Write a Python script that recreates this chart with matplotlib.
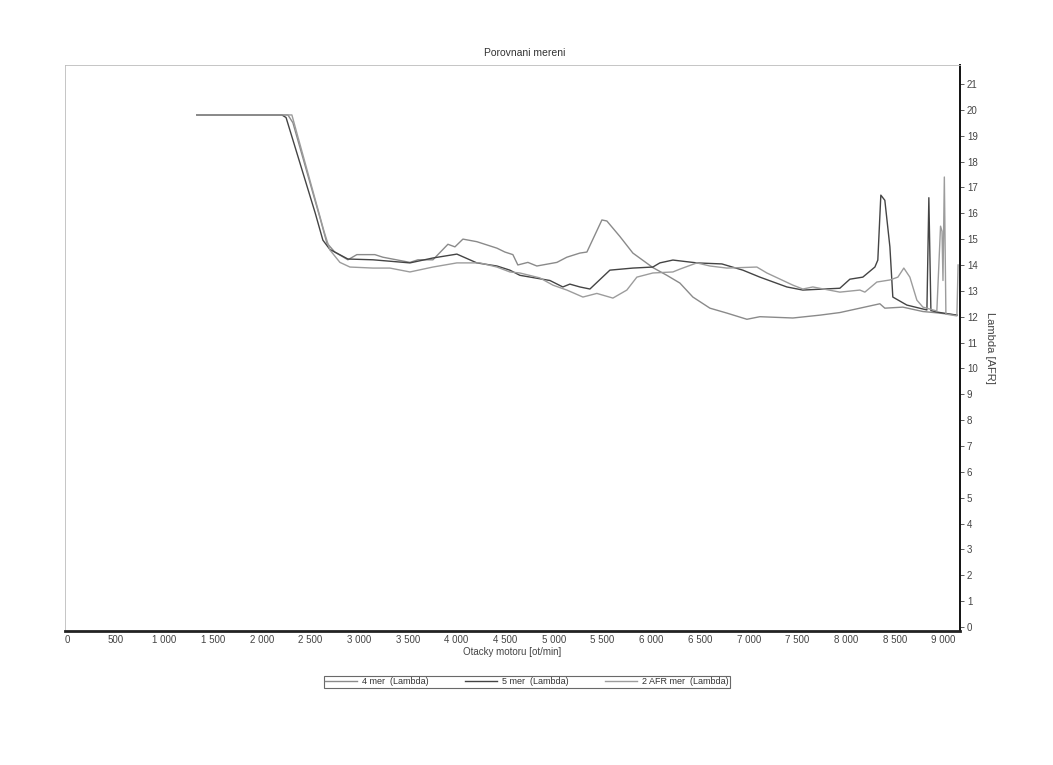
import matplotlib
matplotlib.use('Agg')
import matplotlib.pyplot as plt
from matplotlib.ticker import FuncFormatter

plt.rcParams['font.family'] = ['Liberation Sans', 'DejaVu Sans']

# 4 mer (Lambda) - light line with the hump at 5500
rpm_4 = [1335, 2269, 2320, 2600, 2669, 2750, 2885, 2977, 3162, 3244, 3522, 3604, 3758, 3912, 3984,
         4066, 4209, 4415, 4497, 4579, 4630, 4733, 4825, 5031, 5133, 5267, 5339, 5493,
         5544, 5678, 5811, 6016, 6160, 6294, 6427, 6602, 6776, 6982, 7115, 7454, 7731,
         7936, 8142, 8347, 8398, 8583, 8789, 8932, 9138]
afr_4 = [19.8, 19.8, 19.5, 15.8, 14.85, 14.5, 14.2, 14.4, 14.4, 14.3, 14.1, 14.2, 14.2, 14.8, 14.7,
         15.0, 14.9, 14.65, 14.5, 14.4, 14.0, 14.1, 13.96, 14.1, 14.3, 14.46, 14.5, 15.74,
         15.7, 15.1, 14.46, 13.9, 13.6, 13.3, 12.76, 12.33, 12.14, 11.9, 12.0, 11.95, 12.06,
         12.16, 12.33, 12.5, 12.33, 12.37, 12.2, 12.15, 12.06]

# 5 mer (Lambda) - dark line
rpm_5 = [1335, 2207, 2250, 2550, 2628, 2700, 2885, 3142, 3522, 3758, 4004, 4209, 4415, 4548, 4651, 4959,
         5092, 5164, 5267, 5370, 5575, 5811, 6016, 6088, 6222, 6468, 6725, 6940, 7115,
         7392, 7556, 7936, 8039, 8172, 8296, 8326, 8357, 8398, 8450, 8480, 8624, 8830,
         8850, 8871, 8932, 9138]
afr_5 = [19.8, 19.8, 19.7, 16.0, 14.96, 14.6, 14.23, 14.2, 14.08, 14.27, 14.42, 14.08, 13.96, 13.8, 13.6, 13.4,
         13.15, 13.26, 13.15, 13.07, 13.8, 13.88, 13.92, 14.08, 14.19, 14.08, 14.04, 13.8, 13.53,
         13.15, 13.03, 13.1, 13.45, 13.53, 13.92, 14.19, 16.7, 16.5, 14.7, 12.76, 12.45, 12.26,
         16.6, 12.24, 12.18, 12.06]

# 2 AFR mer (Lambda) - light line, lowest in the middle
rpm_2 = [1335, 2310, 2361, 2640, 2700, 2803, 2906, 3142, 3316, 3522, 3758, 4004, 4240, 4415,
         4548, 4651, 4856, 4990, 5133, 5298, 5441, 5606, 5749, 5852, 6016, 6222, 6294,
         6468, 6602, 6776, 7084, 7187, 7454, 7556, 7659, 7936, 8142, 8193, 8316, 8450,
         8532, 8593, 8655, 8727, 8789, 8932, 8970, 8985, 8995, 9009, 9025, 9138, 9150]
afr_2 = [19.8, 19.8, 19.1, 15.3, 14.58, 14.1, 13.92, 13.88, 13.88, 13.73, 13.92, 14.08, 14.08, 13.92,
         13.73, 13.69, 13.5, 13.22, 13.03, 12.76, 12.9, 12.72, 13.03, 13.53, 13.69, 13.73, 13.84,
         14.08, 13.96, 13.88, 13.92, 13.69, 13.22, 13.07, 13.15, 12.95, 13.03, 12.95, 13.34, 13.42,
         13.53, 13.88, 13.53, 12.64, 12.37, 12.22, 15.5, 15.3, 13.4, 17.4, 12.1, 12.03, 14.0]

x_ticks = list(range(0, 9001, 500))
y_ticks = list(range(0, 22))

fig = plt.figure(figsize=(10.53, 7.65), dpi=100)
ax = fig.add_axes([0.0617, 0.1752, 0.85, 0.7398])

l4, = ax.plot(rpm_4, afr_4, color='#8a8a8a', lw=1.0)
l5, = ax.plot(rpm_5, afr_5, color='#444444', lw=1.0)
l2, = ax.plot(rpm_2, afr_2, color='#9c9c9c', lw=1.0)

ax.set_xlim(-20, 9170)
ax.set_ylim(-0.15, 21.73)
ax.set_xticks(x_ticks)
ax.xaxis.set_major_formatter(FuncFormatter(lambda v, p: '{:,}'.format(int(v)).replace(',', ' ')))
ax.set_yticks(y_ticks)

ax.yaxis.tick_right()
ax.yaxis.set_label_position('right')
ax.tick_params(axis='x', length=0, pad=3, labelsize=7, colors='#444444')
ax.tick_params(axis='y', length=3, width=0.6, pad=2, labelsize=7, colors='#444444')

for s in ['left', 'top']:
    ax.spines[s].set_color('#bbbbbb')
    ax.spines[s].set_linewidth(0.6)
ax.spines['right'].set_color('#111111')
ax.spines['right'].set_linewidth(1.4)
ax.spines['bottom'].set_color('#222222')
ax.spines['bottom'].set_linewidth(2.0)

ax.set_xlabel('Otacky motoru [ot/min]', fontsize=7, color='#444444', labelpad=1)
ax.set_ylabel('Lambda [AFR]', fontsize=8, color='#444444', rotation=270, labelpad=12)
fig.text(525 / 1053, 1 - 53 / 765, 'Porovnani mereni', fontsize=7.5, color='#333333',
         ha='center', va='center')

leg = fig.legend([l4, l5, l2], ['4 mer  (Lambda)', '5 mer  (Lambda)', '2 AFR mer  (Lambda)'],
                 loc='center', bbox_to_anchor=(527 / 1053, 1 - 682 / 765), ncol=3,
                 fontsize=6.5, frameon=True, fancybox=False, handlelength=3.5,
                 columnspacing=4, borderpad=0.2, handletextpad=0.6)
leg.get_frame().set_edgecolor('#444444')
leg.get_frame().set_linewidth(0.8)
for t in leg.get_texts():
    t.set_color('#333333')

plt.savefig('out.png', dpi=100)
